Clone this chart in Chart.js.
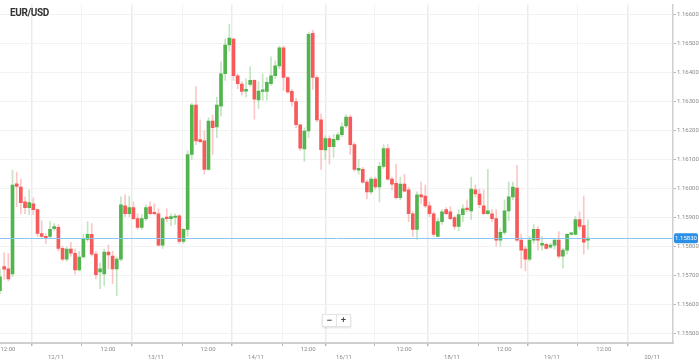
<!DOCTYPE html>
<html>
<head>
<meta charset="utf-8">
<script src="https://cdn.jsdelivr.net/npm/chart.js@4.4.1/dist/chart.umd.min.js"></script>
<style>
    html, body { margin: 0; padding: 0; background: #fff; }
    #wrap { position: relative; width: 699px; height: 362px; }
    #title { position: absolute; left: 10px; top: 7px; font: bold 10px Roboto, sans-serif; color: #333; letter-spacing: -0.4px; }
    #zoomBox { position: absolute; left: 322px; top: 314px; height: 11px; display: flex; background: #fff;
               border: 1px solid #e4e4e4; box-shadow: 0 1px 2px rgba(0,0,0,0.12); }
    #zoomBox span { width: 13px; text-align: center; font: bold 9px/11px Arial, sans-serif; color: #444; }
    #zoomBox span + span { border-left: 1px solid #e4e4e4; }
</style>
</head>
<body>
<div id="wrap">
    <canvas id="fxChart" width="699" height="362"></canvas>
    <div id="title">EUR/USD</div>
    <div id="zoomBox"><span>−</span><span>+</span></div>
</div>
<script>
// Hourly EUR/USD candles
const openPrices = [
    1.15649, 1.15732, 1.15724, 1.15707, 1.16017, 1.16006, 1.15955, 1.15935, 1.15948, 1.15928,
    1.15846, 1.15836, 1.15836, 1.15863, 1.15867, 1.15795, 1.15758, 1.15792, 1.15778, 1.15721,
    1.15765, 1.15826, 1.15843, 1.15775, 1.15714, 1.15707, 1.15782, 1.15768, 1.15724, 1.15758,
    1.15941, 1.15914, 1.15935, 1.15897, 1.15867, 1.15897, 1.15938, 1.15918, 1.15914, 1.15806,
    1.15901, 1.15897, 1.15901, 1.15907, 1.15819, 1.15860, 1.16118, 1.16288, 1.16169, 1.16165,
    1.16067, 1.16233, 1.16213, 1.16284, 1.16396, 1.16495, 1.16515, 1.16389, 1.16360, 1.16336,
    1.16359, 1.16373, 1.16306, 1.16335, 1.16335, 1.16362, 1.16389, 1.16423, 1.16485, 1.16383,
    1.16335, 1.16300, 1.16220, 1.16137, 1.16199, 1.16535, 1.16383, 1.16237, 1.16134, 1.16173,
    1.16145, 1.16169, 1.16186, 1.16216, 1.16247, 1.16152, 1.16064, 1.16067, 1.16023, 1.15989,
    1.16033, 1.16006, 1.16077, 1.16138, 1.16033, 1.16019, 1.15969, 1.16016, 1.15996, 1.15914,
    1.15860, 1.15979, 1.15975, 1.15941, 1.15914, 1.15836, 1.15887, 1.15928, 1.15921, 1.15901,
    1.15870, 1.15911, 1.15931, 1.15924, 1.15996, 1.15982, 1.15941, 1.15914, 1.15914, 1.15897,
    1.15823, 1.15850, 1.15924, 1.15972, 1.16002, 1.15823, 1.15792, 1.15758, 1.15823, 1.15860,
    1.15806, 1.15809, 1.15799, 1.15806, 1.15823, 1.15768, 1.15789, 1.15843, 1.15843, 1.15894,
    1.15873, 1.15823
];
const highPrices = [
    1.15724, 1.15779, 1.15778, 1.16064, 1.16057, 1.16033, 1.15972, 1.15996, 1.15969, 1.15931,
    1.15890, 1.15846, 1.15887, 1.15880, 1.15877, 1.15802, 1.15799, 1.15816, 1.15792, 1.15785,
    1.15843, 1.15887, 1.15880, 1.15785, 1.15744, 1.15792, 1.15806, 1.15785, 1.15765, 1.15972,
    1.15979, 1.15975, 1.15955, 1.15914, 1.15911, 1.15945, 1.15955, 1.15948, 1.15931, 1.15901,
    1.15931, 1.15914, 1.15914, 1.15911, 1.15863, 1.16131, 1.16294, 1.16352, 1.16237, 1.16199,
    1.16244, 1.16254, 1.16315, 1.16437, 1.16515, 1.16566, 1.16519, 1.16396, 1.16369, 1.16379,
    1.16420, 1.16376, 1.16369, 1.16396, 1.16383, 1.16454, 1.16440, 1.16491, 1.16491, 1.16386,
    1.16342, 1.16311, 1.16223, 1.16210, 1.16539, 1.16546, 1.16389, 1.16257, 1.16182, 1.16182,
    1.16187, 1.16193, 1.16227, 1.16255, 1.16254, 1.16159, 1.16101, 1.16074, 1.16030, 1.16040,
    1.16040, 1.16091, 1.16152, 1.16152, 1.16040, 1.16084, 1.16040, 1.16050, 1.16006, 1.15921,
    1.15989, 1.16023, 1.16013, 1.15955, 1.15921, 1.15898, 1.15928, 1.15935, 1.15938, 1.15907,
    1.15928, 1.15945, 1.15962, 1.16040, 1.16013, 1.15999, 1.15996, 1.16067, 1.15928, 1.15928,
    1.15863, 1.15962, 1.16023, 1.16023, 1.16081, 1.15843, 1.15802, 1.15836, 1.15877, 1.15870,
    1.15836, 1.15812, 1.15812, 1.15829, 1.15853, 1.15795, 1.15846, 1.15850, 1.15904, 1.15921,
    1.15975, 1.15894
];
const lowPrices = [
    1.15639, 1.15689, 1.15683, 1.15697, 1.15938, 1.15914, 1.15914, 1.15911, 1.15911, 1.15836,
    1.15829, 1.15812, 1.15829, 1.15856, 1.15785, 1.15751, 1.15751, 1.15768, 1.15707, 1.15717,
    1.15761, 1.15819, 1.15768, 1.15690, 1.15656, 1.15666, 1.15724, 1.15673, 1.15632, 1.15751,
    1.15904, 1.15904, 1.15894, 1.15860, 1.15860, 1.15890, 1.15911, 1.15911, 1.15802, 1.15795,
    1.15887, 1.15873, 1.15877, 1.15812, 1.15812, 1.15836, 1.16101, 1.16152, 1.16159, 1.16050,
    1.16064, 1.16118, 1.16176, 1.16250, 1.16373, 1.16474, 1.16373, 1.16345, 1.16322, 1.16315,
    1.16352, 1.16240, 1.16277, 1.16305, 1.16305, 1.16356, 1.16379, 1.16413, 1.16339, 1.16328,
    1.16284, 1.16210, 1.16131, 1.16094, 1.16176, 1.16342, 1.16230, 1.16067, 1.16101, 1.16085,
    1.16108, 1.16165, 1.16179, 1.16210, 1.16118, 1.16060, 1.16050, 1.16019, 1.15965, 1.15982,
    1.15999, 1.15955, 1.16070, 1.16030, 1.15996, 1.15965, 1.15962, 1.15989, 1.15887, 1.15836,
    1.15826, 1.15948, 1.15935, 1.15904, 1.15836, 1.15834, 1.15877, 1.15911, 1.15894, 1.15860,
    1.15856, 1.15887, 1.15921, 1.15894, 1.15972, 1.15935, 1.15911, 1.15911, 1.15887, 1.15802,
    1.15802, 1.15843, 1.15890, 1.15962, 1.15819, 1.15727, 1.15717, 1.15751, 1.15812, 1.15789,
    1.15789, 1.15792, 1.15795, 1.15792, 1.15761, 1.15727, 1.15775, 1.15840, 1.15841, 1.15860,
    1.15775, 1.15792
];
const closePrices = [
    1.15697, 1.15723, 1.15690, 1.16013, 1.16008, 1.15952, 1.15935, 1.15952, 1.15928, 1.15846,
    1.15836, 1.15829, 1.15860, 1.15870, 1.15795, 1.15758, 1.15792, 1.15778, 1.15721, 1.15765,
    1.15826, 1.15843, 1.15775, 1.15704, 1.15724, 1.15782, 1.15772, 1.15724, 1.15758, 1.15945,
    1.15914, 1.15935, 1.15897, 1.15867, 1.15897, 1.15935, 1.15914, 1.15914, 1.15806, 1.15897,
    1.15897, 1.15904, 1.15904, 1.15819, 1.15860, 1.16118, 1.16288, 1.16165, 1.16162, 1.16067,
    1.16233, 1.16210, 1.16288, 1.16396, 1.16495, 1.16519, 1.16389, 1.16362, 1.16335, 1.16342,
    1.16373, 1.16308, 1.16336, 1.16339, 1.16366, 1.16389, 1.16423, 1.16485, 1.16383, 1.16333,
    1.16300, 1.16221, 1.16140, 1.16199, 1.16532, 1.16383, 1.16237, 1.16135, 1.16173, 1.16145,
    1.16170, 1.16186, 1.16213, 1.16247, 1.16152, 1.16067, 1.16070, 1.16023, 1.15989, 1.16033,
    1.16006, 1.16077, 1.16138, 1.16033, 1.16016, 1.15969, 1.16016, 1.15992, 1.15914, 1.15860,
    1.15979, 1.15972, 1.15941, 1.15914, 1.15843, 1.15887, 1.15921, 1.15914, 1.15897, 1.15870,
    1.15911, 1.15931, 1.15928, 1.15999, 1.15982, 1.15945, 1.15914, 1.15924, 1.15897, 1.15823,
    1.15850, 1.15924, 1.15972, 1.16006, 1.15823, 1.15789, 1.15758, 1.15823, 1.15860, 1.15823,
    1.15812, 1.15795, 1.15806, 1.15823, 1.15768, 1.15789, 1.15843, 1.15846, 1.15894, 1.15870,
    1.15816, 1.15830
];

// x axis: candle index; labels sit where the picture puts them
const xTickPos = [1.9, 13.4, 25.9, 37.4, 49.9, 61.4, 73.9, 82.5, 96.9, 108.4, 120.9, 132.4, 144.8, 156.4];
const xTickLabels = ['12:00', '12/11', '12:00', '13/11', '12:00', '14/11', '12:00', '16/11',
                     '12:00', '18/11', '12:00', '19/11', '12:00', '20/11'];
const yTicks = [1.155, 1.156, 1.157, 1.158, 1.159, 1.160, 1.161, 1.162, 1.163, 1.164, 1.165, 1.166];

const upColor = '#52b54e';
const downColor = '#f65b5b';
const upWick = 'rgba(82,181,78,0.35)';
const downWick = 'rgba(246,91,91,0.35)';

const isUp = openPrices.map((o, i) => closePrices[i] >= o);
const lastPrice = closePrices[closePrices.length - 1];

const wickData = openPrices.map((o, i) => ({ x: i, y: [lowPrices[i], highPrices[i]] }));
const bodyData = openPrices.map((o, i) => ({ x: i, y: [Math.min(o, closePrices[i]), Math.max(o, closePrices[i])] }));

// current price line + its label on the right axis
const priceLine = {
    id: 'priceLine',
    afterDatasetsDraw(chart) {
        const { ctx, chartArea, scales } = chart;
        const y = Math.round(scales.y.getPixelForValue(lastPrice)) + 0.5;
        ctx.save();
        ctx.strokeStyle = '#8cc6f1';
        ctx.lineWidth = 1;
        ctx.beginPath();
        ctx.moveTo(chartArea.left, y);
        ctx.lineTo(chartArea.right, y);
        ctx.stroke();
        ctx.restore();
    },
    afterDraw(chart) {
        const { ctx, chartArea, scales } = chart;
        const y = scales.y.getPixelForValue(lastPrice);
        const x = chartArea.right + 1;
        ctx.save();
        ctx.fillStyle = '#2b8fe6';
        ctx.beginPath();
        ctx.roundRect(x, y - 5, 24, 10, 2);
        ctx.fill();
        ctx.fillStyle = '#fff';
        ctx.font = '6px Roboto';
        ctx.textAlign = 'center';
        ctx.textBaseline = 'middle';
        ctx.fillText(lastPrice.toFixed(5), x + 12, y + 0.5);
        ctx.restore();
    }
};

const ctx = document.getElementById('fxChart').getContext('2d');
const fxChart = new Chart(ctx, {
    type: 'bar',
    data: {
        datasets: [{
            label: 'wick',
            data: wickData,
            backgroundColor: isUp.map(u => u ? upWick : downWick),
            barThickness: 1,
            grouped: false,
            borderWidth: 0,
            borderSkipped: false
        }, {
            label: 'body',
            data: bodyData,
            backgroundColor: isUp.map(u => u ? upColor : downColor),
            barThickness: 3,
            minBarLength: 1.5,
            grouped: false,
            borderWidth: 0,
            borderSkipped: false
        }]
    },
    options: {
        responsive: false,
        animation: false,
        layout: { padding: 0 },
        plugins: {
            legend: { display: false },
            tooltip: { enabled: false }
        },
        scales: {
            x: {
                type: 'linear',
                min: 0,
                max: 161.4,
                offset: false,
                afterBuildTicks: (scale) => {
                    scale.ticks = xTickPos.map(v => ({ value: v }));
                },
                afterFit: (scale) => { scale.height = 19; },
                ticks: {
                    autoSkip: false,
                    maxRotation: 0,
                    padding: 0,
                    color: '#8a8a8a',
                    font: { family: 'Roboto', size: 6, lineHeight: 1.3 },
                    callback: (value, index) => {
                        const lab = xTickLabels[index];
                        return lab.includes('/') ? ['', lab] : lab;
                    }
                },
                grid: {
                    color: (c) => (c.index % 2 === 1 ? '#ebebeb' : '#f3f3f3'),
                    lineWidth: (c) => (c.index % 2 === 1 ? 1.5 : 1),
                    tickColor: '#b5b5b5',
                    tickLength: 3
                },
                border: { color: '#cfcfcf', width: 2 }
            },
            y: {
                position: 'right',
                min: 1.15469,
                max: 1.16634,
                afterBuildTicks: (scale) => {
                    scale.ticks = yTicks.map(v => ({ value: v }));
                },
                afterFit: (scale) => { scale.width = 26; },
                ticks: {
                    padding: 1,
                    color: '#8a8a8a',
                    font: { family: 'Roboto', size: 6 },
                    callback: (v) => v.toFixed(5)
                },
                grid: {
                    color: '#f2f2f2',
                    tickColor: '#b5b5b5',
                    tickLength: 3
                },
                border: { color: '#cfcfcf', width: 1.5 }
            }
        }
    },
    plugins: [priceLine]
});
</script>
</body>
</html>
